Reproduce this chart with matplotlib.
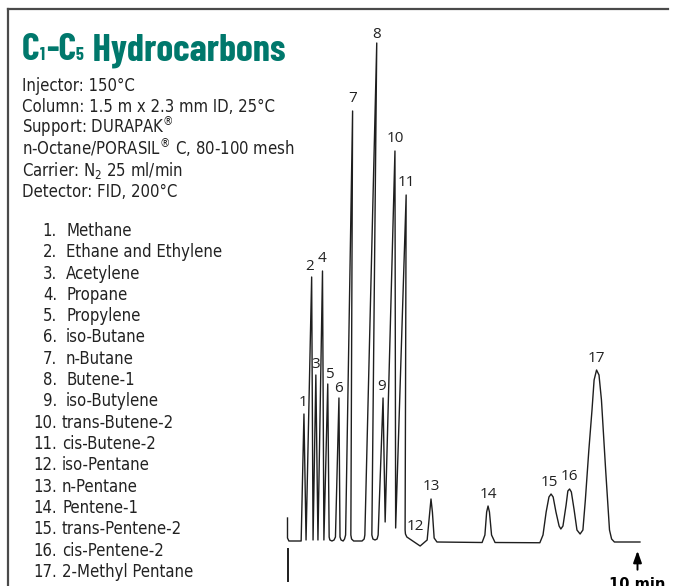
import matplotlib

matplotlib.use("Agg")
import matplotlib.pyplot as plt
from matplotlib.lines import Line2D

W, H = 673, 586
TEAL = "#00786c"
INK = "#1e1e1e"
TEXT = "#222222"
HEAD = ["Barlow Condensed", "DejaVu Sans"]

plt.rcParams["mathtext.fontset"] = "custom"
plt.rcParams["mathtext.rm"] = "DejaVu Sans:stretch=condensed"

# ---- data ---------------------------------------------------------------
title_parts = [("C", False), ("1", True), ("-C", False), ("5", True),
               (" Hydrocarbons", False)]

conditions = [
    "Injector: 150°C",
    "Column: 1.5 m x 2.3 mm ID, 25°C",
    r"Support: DURAPAK$^{\mathrm{®}}$",
    r"n-Octane/PORASIL$^{\mathrm{®}}$ C, 80-100 mesh",
    r"Carrier: $\mathrm{N_2}$ 25 ml/min",
    "Detector: FID, 200°C",
]

compounds = [
    "Methane", "Ethane and Ethylene", "Acetylene", "Propane", "Propylene",
    "iso-Butane", "n-Butane", "Butene-1", "iso-Butylene", "trans-Butene-2",
    "cis-Butene-2", "iso-Pentane", "n-Pentane", "Pentene-1",
    "trans-Pentene-2", "cis-Pentene-2", "2-Methyl Pentane",
]

# detector trace (min, relative response)
trace_time = [
    0.00, 0.00, 0.04, 0.39, 0.47, 0.53, 0.69, 0.73, 0.81, 0.87, 1.00, 1.04,
    1.15, 1.19, 1.21, 1.27, 1.33, 1.37, 1.47, 1.50, 1.53, 1.59, 1.63, 1.66,
    1.86, 1.81, 1.83, 1.89, 2.13, 2.19, 2.21, 2.55, 2.41, 2.44, 2.50, 2.56,
    2.59, 2.73, 2.79, 3.07, 3.09, 3.39, 3.36, 3.37, 3.41, 3.79, 3.99, 4.07,
    4.10, 4.14, 4.19, 4.27, 5.56, 5.64, 5.69, 5.73, 5.77, 5.83, 5.93, 7.21,
    7.30, 7.39, 7.47, 7.53, 7.59, 7.67, 7.76, 7.81, 7.87, 7.96, 8.01, 8.06,
    8.11, 8.19, 8.27, 8.36, 8.44, 8.51, 8.61, 8.70, 8.76, 8.83, 8.90, 8.97,
    9.09, 9.20, 9.26, 9.34, 10.07,
]
trace_resp = [
    4.6, 0.6, 0.0, 0.0, 25.4, 0.2, 52.8, 0.2, 33.2, 0.2, 54.0, 0.2,
    31.4, 0.8, 0.2, 0.0, 0.2, 0.8, 28.6, 0.8, 0.2, 0.0, 0.4, 1.2,
    86.0, 1.2, 0.4, 0.0, 0.0, 0.4, 1.2, 99.6, 1.2, 0.4, 0.2, 0.4,
    1.2, 28.6, 3.8, 78.0, 2.6, 69.2, 2.2, 1.4, 0.8, -1.0, 0.2, 6.2,
    8.4, 5.8, 0.6, -0.2, -0.3, 1.2, 5.8, 7.0, 5.8, 1.2, -0.3, -0.35,
    1.2, 5.8, 8.8, 9.4, 8.8, 5.8, 3.0, 2.4, 3.0, 7.2, 10.0, 10.4,
    9.8, 6.2, 2.2, 1.4, 2.2, 8.2, 18.2, 26.2, 32.2, 34.2, 33.2, 28.2,
    14.2, 2.2, 0.4, -0.2, -0.2,
]

# apex (or dip, for 12) of each numbered peak
peak_time = [0.47, 0.69, 0.81, 1.00, 1.15, 1.47, 1.86, 2.55, 2.73, 3.07,
             3.39, 3.79, 4.10, 5.73, 7.53, 8.06, 8.83]
peak_resp = [25.4, 52.8, 33.2, 54.0, 31.4, 28.6, 86.0, 99.6, 28.6, 78.0,
             69.2, -1.0, 8.4, 7.0, 9.4, 10.4, 34.2]

run_end = 10  # min


def fx(x):
    return x / W


def fy(y):
    return 1 - y / H


fig = plt.figure(figsize=(W / 100, H / 100), dpi=100)
renderer = fig.canvas.get_renderer()

# frame
fig.add_artist(Line2D([fx(8), fx(8)], [fy(9), fy(586)], color="#4a4a4a", lw=1.6))
fig.add_artist(Line2D([fx(8), fx(668)], [fy(9), fy(9)], color="#4a4a4a", lw=1.6))

# ---- text block ---------------------------------------------------------
# title built piece by piece so the subscripts stay small and low
x = 22
for s, sub in title_parts:
    t = fig.text(fx(x), fy(60), s, fontsize=13 if sub else 27.5,
                 fontweight="bold", fontstretch="condensed", color=TEAL,
                 family=HEAD, va="baseline")
    x += t.get_window_extent(renderer).width + (1 if sub else 0)

for i, line in enumerate(conditions):
    fig.text(fx(22), fy(91 + i * 21.2), line, fontsize=12, color=TEXT,
             family="DejaVu Sans", fontstretch="condensed", va="baseline")

for i, name in enumerate(compounds):
    y = fy(236 + i * 21.3)
    fig.text(fx(57), y, f"{i + 1}.", fontsize=12, color=TEXT,
             family="DejaVu Sans", fontstretch="condensed", va="baseline",
             ha="right")
    fig.text(fx(62 if i >= 9 else 66), y, name, fontsize=12, color=TEXT,
             family="DejaVu Sans", fontstretch="condensed", va="baseline")

# ---- chromatogram -------------------------------------------------------
ax = fig.add_axes([fx(287.5), 45 / H, 350 / W, 500 / H])
ax.set_xlim(0, 10)
ax.set_ylim(0, 100)
ax.axis("off")

ax.plot(trace_time, trace_resp, color=INK, lw=1.0, clip_on=False,
        solid_joinstyle="round")

# injection mark
ax.plot([0, 0], [-1.6, -8.0], color=INK, lw=1.4, clip_on=False)

# end of run arrow
ax.annotate("", xy=(run_end, -1.4), xytext=(run_end, -6.3),
            arrowprops=dict(arrowstyle="-|>,head_width=0.25,head_length=0.7",
                            color="black", lw=1.4), annotation_clip=False)
ax.text(run_end, -8.7, "10 min", ha="center", va="center", fontsize=10.5,
        fontweight="bold", family="DejaVu Sans", color="black", clip_on=False)

label_shift = {1: (-1, 11), 2: (-2.5, 10), 3: (0, 10), 4: (0, 12), 5: (1.5, 9),
               6: (0, 10), 8: (0, 9), 9: (-1, 12), 12: (-5, 19), 15: (-2, 11)}
for n, (t, r) in enumerate(zip(peak_time, peak_resp), start=1):
    dx, dy = label_shift.get(n, (0, 12))
    ax.annotate(str(n), xy=(t, r), xytext=(dx * 0.72, dy * 0.72),
                textcoords="offset points", ha="center", va="center",
                fontsize=11, family="Open Sans", color=TEXT,
                annotation_clip=False)

fig.savefig("out.png", dpi=100)
